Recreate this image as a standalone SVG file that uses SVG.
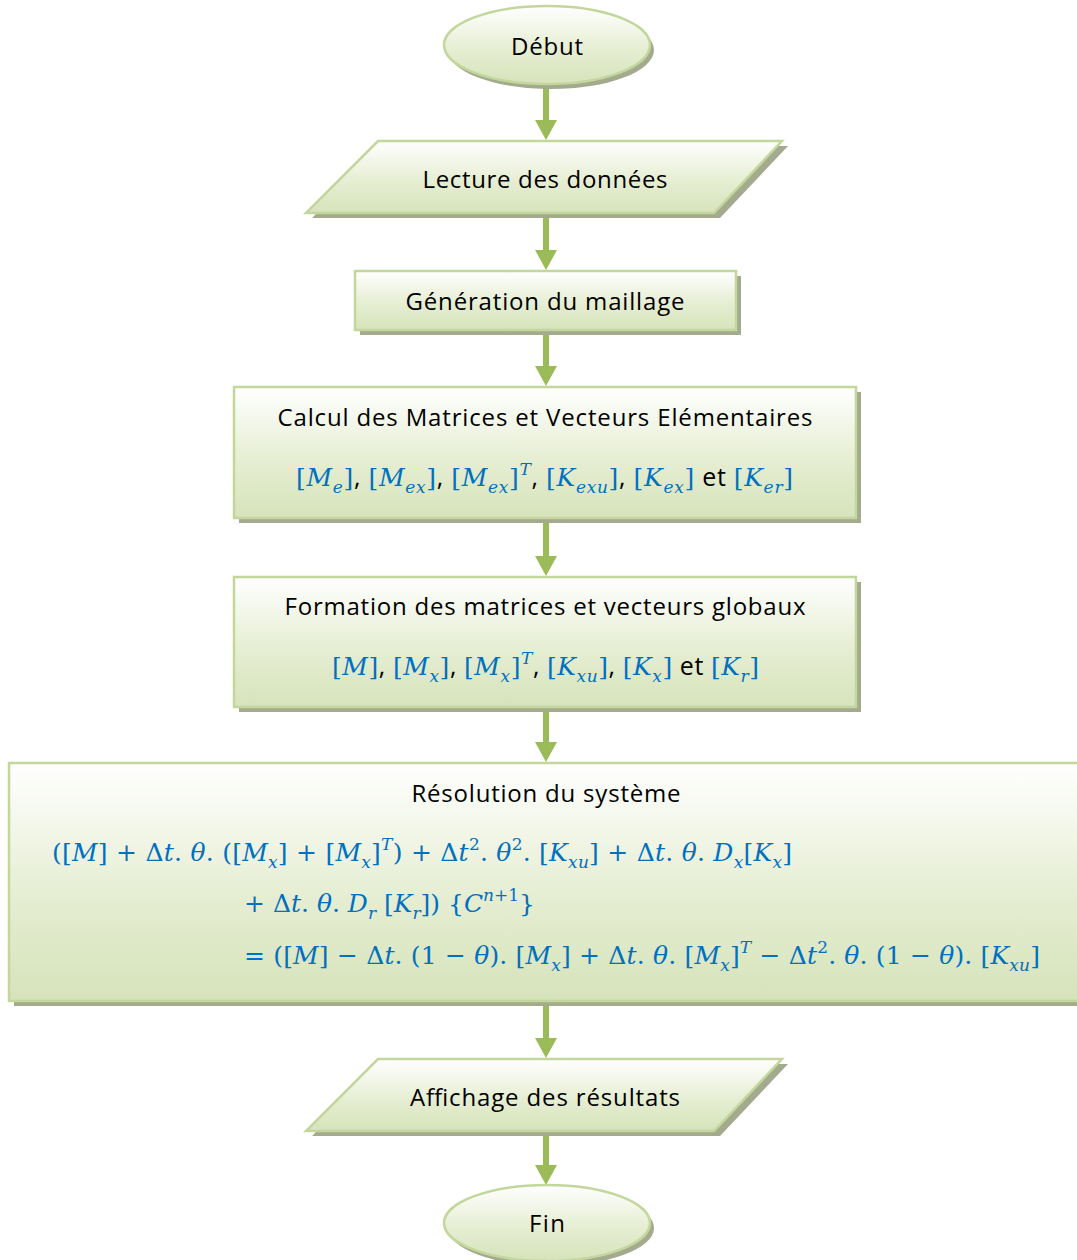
<svg xmlns="http://www.w3.org/2000/svg" width="1077" height="1260" viewBox="0 0 1077 1260">
<defs>
<linearGradient id="g" x1="0" y1="0" x2="0" y2="1">
<stop offset="0" stop-color="#ffffff"/>
<stop offset="0.55" stop-color="#e6eed3"/>
<stop offset="1" stop-color="#d6e3bb"/>
</linearGradient>
<marker id="ah" markerUnits="userSpaceOnUse" markerWidth="22" markerHeight="22" viewBox="0 0 20 22" refX="2" refY="11" orient="auto">
<path d="M0,0 L20,11 L0,22 z" fill="#9bbb59"/>
</marker>
<style>
.sh{fill:#a3aa8e}
.nd{fill:url(#g);stroke:#c3d69b;stroke-width:2.5}
.t{font-family:"Open Sans","Noto Sans","DejaVu Sans",sans-serif;font-size:24px;fill:#000;text-anchor:middle}
.m{font-family:"DejaVu Serif","Liberation Serif",serif;font-size:25px;fill:#0070c0}
.i{font-style:italic}
.s{font-size:17px}
.k{fill:#000;font-family:"Open Sans","Noto Sans",sans-serif;font-style:normal}
.c{stroke:#9bbb59;stroke-width:6;fill:none;marker-end:url(#ah)}
</style>
</defs>
<g id="connectors">
<line class="c" x1="546" y1="86" x2="546" y2="122"/>
<line class="c" x1="546" y1="215" x2="546" y2="252"/>
<line class="c" x1="546" y1="333" x2="546" y2="368"/>
<line class="c" x1="546" y1="521" x2="546" y2="558"/>
<line class="c" x1="546" y1="710" x2="546" y2="744"/>
<line class="c" x1="546" y1="1004" x2="546" y2="1040"/>
<line class="c" x1="546" y1="1133" x2="546" y2="1167"/>
</g>
<g id="debut">
<ellipse class="sh" cx="551" cy="50" rx="103" ry="39"/>
<ellipse class="nd" cx="547" cy="45" rx="103" ry="39"/>
<text class="t" x="547" y="55" textLength="72">Début</text>
</g>
<g id="lecture">
<polygon class="sh" points="384,146 788,146 720,218 312,218"/>
<polygon class="nd" points="378,141 782,141 714,213 306,213"/>
<text class="t" x="545" y="188" textLength="245">Lecture des données</text>
</g>
<g id="generation">
<rect class="sh" x="360" y="276" width="381" height="59"/>
<rect class="nd" x="355" y="271" width="381" height="59"/>
<text class="t" x="545" y="310" textLength="279">Génération du maillage</text>
</g>
<g id="calcul">
<rect class="sh" x="239" y="392" width="622" height="131"/>
<rect class="nd" x="234" y="387" width="622" height="131"/>
<text class="t" x="545" y="426" textLength="535">Calcul des Matrices et Vecteurs Elémentaires</text>
<text class="m" x="296" y="486" textLength="497">[<tspan class="i">M</tspan><tspan class="i s" dy="7">e</tspan><tspan dy="-7">]</tspan><tspan class="k">, </tspan>[<tspan class="i">M</tspan><tspan class="i s" dy="7">ex</tspan><tspan dy="-7">]</tspan><tspan class="k">, </tspan>[<tspan class="i">M</tspan><tspan class="i s" dy="7">ex</tspan><tspan dy="-7">]</tspan><tspan class="i s" dy="-11">T</tspan><tspan class="k" dy="11">, </tspan>[<tspan class="i">K</tspan><tspan class="i s" dy="7">exu</tspan><tspan dy="-7">]</tspan><tspan class="k">, </tspan>[<tspan class="i">K</tspan><tspan class="i s" dy="7">ex</tspan><tspan dy="-7">]</tspan><tspan class="k"> et </tspan>[<tspan class="i">K</tspan><tspan class="i s" dy="7">er</tspan><tspan dy="-7">]</tspan></text>
</g>
<g id="formation">
<rect class="sh" x="239" y="582" width="622" height="130"/>
<rect class="nd" x="234" y="577" width="622" height="130"/>
<text class="t" x="545" y="615" textLength="521">Formation des matrices et vecteurs globaux</text>
<text class="m" x="332" y="675" textLength="427">[<tspan class="i">M</tspan>]<tspan class="k">, </tspan>[<tspan class="i">M</tspan><tspan class="i s" dy="7">x</tspan><tspan dy="-7">]</tspan><tspan class="k">, </tspan>[<tspan class="i">M</tspan><tspan class="i s" dy="7">x</tspan><tspan dy="-7">]</tspan><tspan class="i s" dy="-11">T</tspan><tspan class="k" dy="11">, </tspan>[<tspan class="i">K</tspan><tspan class="i s" dy="7">xu</tspan><tspan dy="-7">]</tspan><tspan class="k">, </tspan>[<tspan class="i">K</tspan><tspan class="i s" dy="7">x</tspan><tspan dy="-7">]</tspan><tspan class="k"> et </tspan>[<tspan class="i">K</tspan><tspan class="i s" dy="7">r</tspan><tspan dy="-7">]</tspan></text>
</g>
<g id="resolution">
<rect class="sh" x="14" y="768" width="1080" height="238"/>
<rect class="nd" x="9" y="763" width="1080" height="238"/>
<text class="t" x="546" y="802" textLength="269">Résolution du système</text>
<text class="m" x="52" y="861" textLength="740">([<tspan class="i">M</tspan>] + Δ<tspan class="i">t</tspan>. <tspan class="i">θ</tspan>. ([<tspan class="i">M</tspan><tspan class="i s" dy="7">x</tspan><tspan dy="-7">] + [</tspan><tspan class="i">M</tspan><tspan class="i s" dy="7">x</tspan><tspan dy="-7">]</tspan><tspan class="i s" dy="-11">T</tspan><tspan dy="11">) + Δ</tspan><tspan class="i">t</tspan><tspan class="s" dy="-11">2</tspan><tspan dy="11">. </tspan><tspan class="i">θ</tspan><tspan class="s" dy="-11">2</tspan><tspan dy="11">. [</tspan><tspan class="i">K</tspan><tspan class="i s" dy="7">xu</tspan><tspan dy="-7">] + Δ</tspan><tspan class="i">t</tspan>. <tspan class="i">θ</tspan>. <tspan class="i">D</tspan><tspan class="i s" dy="7">x</tspan><tspan dy="-7">[</tspan><tspan class="i">K</tspan><tspan class="i s" dy="7">x</tspan><tspan dy="-7">]</tspan></text>
<text class="m" x="244" y="912" textLength="291">+ Δ<tspan class="i">t</tspan>. <tspan class="i">θ</tspan>. <tspan class="i">D</tspan><tspan class="i s" dy="7">r</tspan><tspan dy="-7"> [</tspan><tspan class="i">K</tspan><tspan class="i s" dy="7">r</tspan><tspan dy="-7">]) {</tspan><tspan class="i">C</tspan><tspan class="i s" dy="-11">n</tspan><tspan class="s">+1</tspan><tspan dy="11">}</tspan></text>
<text class="m" x="244" y="964" textLength="796">=  ([<tspan class="i">M</tspan>] − Δ<tspan class="i">t</tspan>. (1 − <tspan class="i">θ</tspan>). [<tspan class="i">M</tspan><tspan class="i s" dy="7">x</tspan><tspan dy="-7">] + Δ</tspan><tspan class="i">t</tspan>. <tspan class="i">θ</tspan>. [<tspan class="i">M</tspan><tspan class="i s" dy="7">x</tspan><tspan dy="-7">]</tspan><tspan class="i s" dy="-11">T</tspan><tspan dy="11"> − Δ</tspan><tspan class="i">t</tspan><tspan class="s" dy="-11">2</tspan><tspan dy="11">. </tspan><tspan class="i">θ</tspan>. (1 − <tspan class="i">θ</tspan>). [<tspan class="i">K</tspan><tspan class="i s" dy="7">xu</tspan><tspan dy="-7">]</tspan></text>
</g>
<g id="affichage">
<polygon class="sh" points="384,1064 788,1064 720,1136 312,1136"/>
<polygon class="nd" points="378,1059 782,1059 714,1131 306,1131"/>
<text class="t" x="545" y="1106" textLength="270">Affichage des résultats</text>
</g>
<g id="fin">
<ellipse class="sh" cx="551" cy="1228" rx="103" ry="38"/>
<ellipse class="nd" cx="547" cy="1223" rx="103" ry="38"/>
<text class="t" x="547" y="1232" textLength="36">Fin</text>
</g>
</svg>
